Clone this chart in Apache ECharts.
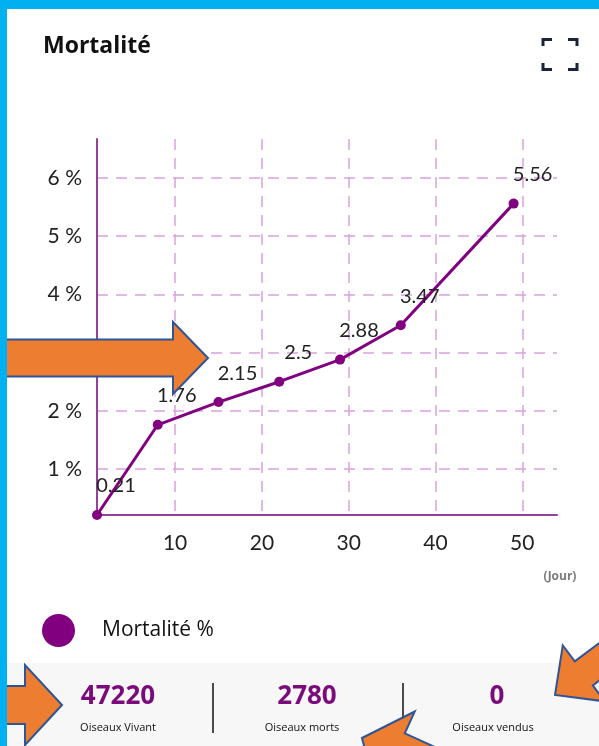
<!DOCTYPE html>
<html><head><meta charset="utf-8">
<script src="https://cdn.jsdelivr.net/npm/echarts@6/dist/echarts.min.js"></script>
<style>html,body{margin:0;padding:0;background:#fff}#c{width:599px;height:746px}</style>
</head><body><div id="c"></div>
<script>
const days = [1, 8, 15, 22, 29, 36, 49];
const mortalite = [0.21, 1.76, 2.15, 2.5, 2.88, 3.47, 5.56];
const xTicks = [10, 20, 30, 40, 50];
const yTicks = [1, 2, 3, 4, 5, 6];
const statValues = ['47220', '2780', '0'];
const statLabels = ['Oiseaux Vivant', 'Oiseaux morts', 'Oiseaux vendus'];
const chartTitle = 'Mortalité';
const seriesName = 'Mortalité %';
const xUnit = '(Jour)';

function arrow(tx, ty, ang, headLen, headHalf, bodyHalf, bodyLen) {
  const a = ang * Math.PI / 180;
  const ux = Math.cos(a), uy = Math.sin(a);
  const px = -uy, py = ux;
  const bx = tx - ux * headLen, by = ty - uy * headLen;
  const pts = [
    [tx, ty],
    [bx + px * headHalf, by + py * headHalf],
    [bx + px * bodyHalf, by + py * bodyHalf],
    [bx + px * bodyHalf - ux * bodyLen, by + py * bodyHalf - uy * bodyLen],
    [bx - px * bodyHalf - ux * bodyLen, by - py * bodyHalf - uy * bodyLen],
    [bx - px * bodyHalf, by - py * bodyHalf],
    [bx - px * headHalf, by - py * headHalf]
  ];
  return { type: 'polygon', z: 200, shape: { points: pts },
    style: { fill: '#ED7D31', stroke: '#2F5597', lineWidth: 2 } };
}

function bracket(points) {
  return { type: 'polyline', z: 10, shape: { points: points },
    style: { stroke: '#1c2238', lineWidth: 3, fill: null } };
}

const numX = [118, 307, 497];
const labX = [118, 302, 493];

const graphics = [
  { type: 'rect', z: 0, shape: { x: 7, y: 663, width: 592, height: 83 }, style: { fill: '#F7F7F7' } },
  { type: 'line', z: 1, shape: { x1: 213, y1: 683, x2: 213, y2: 733 }, style: { stroke: '#111', lineWidth: 1.5 } },
  { type: 'line', z: 1, shape: { x1: 403, y1: 683, x2: 403, y2: 733 }, style: { stroke: '#111', lineWidth: 1.5 } },
  { type: 'rect', z: 300, shape: { x: 0, y: 0, width: 599, height: 9 }, style: { fill: '#00B0F0' } },
  { type: 'rect', z: 300, shape: { x: 0, y: 0, width: 7, height: 746 }, style: { fill: '#00B0F0' } },
  { type: 'text', z: 5, style: { text: xUnit, x: 560, y: 577, align: 'center', verticalAlign: 'middle',
      font: 'bold 12px "Open Sans"', fill: '#7a7a7a' } },
  bracket([[543, 46], [543, 39.5], [552, 39.5]]),
  bracket([[568, 39.5], [577, 39.5], [577, 46]]),
  bracket([[543, 63], [543, 69.5], [552, 69.5]]),
  bracket([[568, 69.5], [577, 69.5], [577, 63]])
];
statValues.forEach((v, i) => {
  graphics.push({ type: 'text', z: 5, style: { text: v, x: numX[i], y: 697, align: 'center', verticalAlign: 'middle',
    font: 'bold 26px "Open Sans"', fill: '#7B0A7B' } });
  graphics.push({ type: 'text', z: 5, style: { text: statLabels[i], x: labX[i], y: 728, align: 'center', verticalAlign: 'middle',
    font: '11px "Open Sans"', fill: '#111' } });
});
graphics.push(arrow(208, 358, 0, 35, 36, 18.5, 220));
graphics.push(arrow(62, 705, 0, 37, 40, 19, 80));
graphics.push(arrow(362, 738, 204.5, 37, 46, 22, 120));
graphics.push(arrow(555, 695, 143.1, 36, 35, 15, 120));

const chart = echarts.init(document.getElementById('c'));
chart.setOption({
  animation: false,
  backgroundColor: '#fff',
  title: { text: chartTitle, left: 43, top: 35, padding: 0,
    textStyle: { fontFamily: 'Open Sans', fontWeight: 'bold', fontSize: 23, color: '#111' } },
  legend: { left: 42, top: 614, padding: 0, itemWidth: 33, itemHeight: 33, icon: 'circle',
    data: [seriesName],
    textStyle: { fontFamily: 'Open Sans', fontSize: 21, color: '#111', padding: [0, 0, 0, 22] } },
  grid: { left: 97, right: 42, top: 139, bottom: 231, containLabel: false },
  xAxis: {
    type: 'value', min: 1, max: 54,
    axisLine: { show: true, lineStyle: { color: '#93419A', width: 2 } },
    axisTick: { show: false, customValues: xTicks },
    axisLabel: { customValues: xTicks, margin: 18, fontFamily: 'Lato', fontSize: 21, color: '#222' },
    splitLine: { show: true, lineStyle: { color: '#D9A3DD', width: 1.5, type: [11, 8] } }
  },
  yAxis: {
    type: 'value', min: 0.21, max: 6.67,
    axisLine: { show: true, lineStyle: { color: '#93419A', width: 2 } },
    axisTick: { show: false, customValues: yTicks },
    axisLabel: { customValues: yTicks, margin: 15, fontFamily: 'Lato', fontSize: 21, color: '#222',
      formatter: v => v + ' %' },
    splitLine: { show: true, lineStyle: { color: '#D9A3DD', width: 1.5, type: [11, 8] } }
  },
  series: [{
    name: seriesName, type: 'line',
    data: days.map((d, i) => [d, mortalite[i]]),
    symbol: 'circle', symbolSize: 10, clip: false,
    color: '#800080',
    lineStyle: { color: '#800080', width: 3 },
    itemStyle: { color: '#800080' },
    label: { show: true, position: 'top', distance: 5, offset: [19, -9],
      fontFamily: 'Lato', fontSize: 20, color: '#222', formatter: p => p.value[1] }
  }],
  graphic: graphics
});
</script>
</body></html>
